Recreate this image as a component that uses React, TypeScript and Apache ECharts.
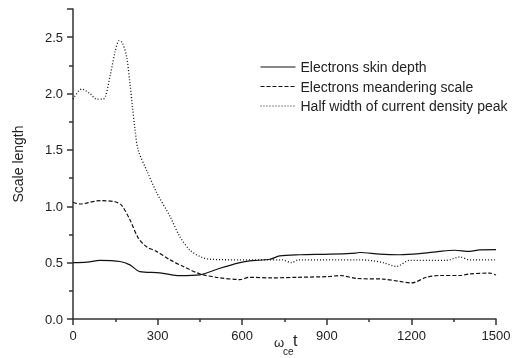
import React, { useEffect, useRef } from "react";
import * as echarts from "echarts";

const skinX = [0, 50, 96, 167, 202, 237, 308, 379, 450, 521, 592, 627, 698, 733, 804, 911, 1003, 1017, 1088, 1159, 1229, 1300, 1353, 1407, 1442, 1500];
const skinY = [0.50, 0.505, 0.52, 0.51, 0.48, 0.42, 0.41, 0.385, 0.392, 0.45, 0.50, 0.516, 0.53, 0.56, 0.57, 0.575, 0.585, 0.59, 0.575, 0.57, 0.58, 0.60, 0.61, 0.60, 0.614, 0.615];

const meanderX = [0, 25, 96, 149, 172, 202, 231, 261, 296, 344, 391, 450, 509, 592, 627, 700, 800, 911, 946, 1005, 1100, 1159, 1200, 1253, 1300, 1371, 1407, 1478, 1500];
const meanderY = [1.036, 1.02, 1.05, 1.04, 1.01, 0.88, 0.72, 0.64, 0.60, 0.525, 0.466, 0.40, 0.37, 0.35, 0.37, 0.365, 0.37, 0.377, 0.386, 0.36, 0.354, 0.333, 0.32, 0.37, 0.386, 0.386, 0.40, 0.407, 0.39];

const halfX = [0, 31, 60, 84, 107, 131, 150, 164, 175, 190, 202, 211, 220, 231, 261, 297, 344, 379, 415, 450, 485, 600, 740, 775, 800, 1017, 1052, 1100, 1147, 1194, 1324, 1371, 1407, 1500];
const halfY = [1.95, 2.04, 2.0, 1.95, 1.95, 2.15, 2.38, 2.47, 2.45, 2.33, 2.09, 1.88, 1.68, 1.50, 1.32, 1.12, 0.91, 0.73, 0.61, 0.555, 0.53, 0.525, 0.525, 0.50, 0.525, 0.525, 0.52, 0.50, 0.466, 0.52, 0.52, 0.55, 0.525, 0.525];

const seriesNames = ["Electrons skin depth", "Electrons meandering scale", "Half width of current density peak"];
const xTicks = [0, 300, 600, 900, 1200, 1500];
const yTicks = [0, 0.5, 1.0, 1.5, 2.0, 2.5];

const zip = (xs: number[], ys: number[]) => xs.map((x, i) => [x, ys[i]]);

export default function App() {
  const ref = useRef<HTMLDivElement>(null);
  useEffect(() => {
    if (!ref.current) return;
    const chart = echarts.init(ref.current, undefined, { renderer: "svg" });
    const font = "Liberation Sans, Arial, sans-serif";
    const axisColor = "#333";
    chart.setOption({
      animation: false,
      textStyle: { fontFamily: font },
      grid: { left: 73, right: 32, top: 9, bottom: 39, containLabel: false },
      legend: {
        orient: "vertical",
        left: 260,
        top: 59,
        padding: 0,
        itemWidth: 35,
        itemHeight: 4,
        itemGap: 3.5,
        itemStyle: { opacity: 0 },
        lineStyle: { width: 1 },
        data: seriesNames,
        textStyle: { fontSize: 14, color: "#222", lineHeight: 16, fontFamily: font },
      },
      xAxis: {
        type: "value",
        min: 0,
        max: 1500,
        interval: 300,
        axisLine: { show: true, lineStyle: { color: axisColor, width: 1.5 } },
        axisTick: { show: true, inside: false, length: 6, lineStyle: { color: axisColor, width: 1.5 } },
        minorTick: { show: true, splitNumber: 2, length: 3, lineStyle: { color: axisColor, width: 1.5 } },
        splitLine: { show: false },
        axisLabel: {
          fontSize: 13,
          color: "#222",
          margin: 10,
          formatter: (v: number) => (xTicks.includes(v) ? String(v) : ""),
        },
      },
      yAxis: {
        type: "value",
        min: 0,
        max: 2.75,
        interval: 0.5,
        name: "Scale length",
        nameLocation: "middle",
        nameGap: 48,
        nameTextStyle: { fontSize: 14, color: "#222" },
        axisLine: { show: true, lineStyle: { color: axisColor, width: 1.5 } },
        axisTick: { show: true, inside: false, length: 6, lineStyle: { color: axisColor, width: 1.5 } },
        minorTick: { show: true, splitNumber: 2, length: 4, lineStyle: { color: axisColor, width: 1.5 } },
        splitLine: { show: false },
        axisLabel: {
          fontSize: 13,
          color: "#222",
          margin: 10,
          formatter: (v: number) => {
            const hit = yTicks.find((t) => Math.abs(t - v) < 1e-6);
            return hit === undefined ? "" : hit.toFixed(1);
          },
        },
      },
      graphic: [
        { type: "text", left: 274, top: 336, style: { text: "ω", fontSize: 13, fill: "#222", fontFamily: font } },
        { type: "text", left: 283, top: 346, style: { text: "ce", fontSize: 10, fill: "#222", fontFamily: font } },
        { type: "text", left: 293, top: 332, style: { text: "t", fontSize: 16, fill: "#222", fontFamily: font } },
      ],
      series: [
        {
          name: seriesNames[0],
          type: "line",
          data: zip(skinX, skinY),
          symbol: "none",
          smooth: 0.3,
          lineStyle: { color: "#111", width: 1.2, type: "solid" },
          itemStyle: { color: "#111" },
        },
        {
          name: seriesNames[1],
          type: "line",
          data: zip(meanderX, meanderY),
          symbol: "none",
          smooth: 0.3,
          lineStyle: { color: "#111", width: 1.2, type: [4, 2] },
          itemStyle: { color: "#111" },
        },
        {
          name: seriesNames[2],
          type: "line",
          data: zip(halfX, halfY),
          symbol: "none",
          smooth: 0.3,
          lineStyle: { color: "#111", width: 1.3, type: [1, 2] },
          itemStyle: { color: "#111" },
        },
      ],
    });
    return () => chart.dispose();
  }, []);
  return <div ref={ref} style={{ position: "fixed", left: 0, top: 0, width: 528, height: 358 }} />;
}
